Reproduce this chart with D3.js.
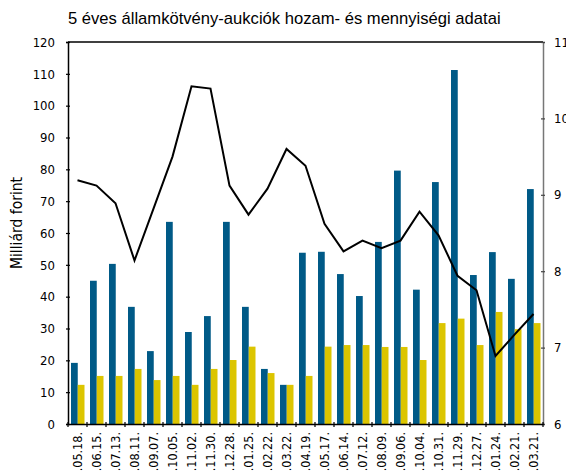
<!DOCTYPE html>
<html>
<head>
<meta charset="utf-8">
<script src="https://cdn.jsdelivr.net/npm/d3@7"></script>
<style>
	body { margin: 0; background: #fff; }
	svg { display: block; }
	.tick text { font-family: "Liberation Sans Narrow", "DejaVu Sans Condensed", sans-serif; }
</style>
</head>
<body>
<script>
// aukciós dátumok
var dates = ["2000.05.18.", "2000.06.15.", "2000.07.13.", "2000.08.11.", "2000.09.07.",
	"2000.10.05.", "2000.11.02.", "2000.11.30.", "2000.12.28.", "2001.01.25.",
	"2001.02.22.", "2001.03.22.", "2001.04.19.", "2001.05.17.", "2001.06.14.",
	"2001.07.12.", "2001.08.09.", "2001.09.06.", "2001.10.04.", "2001.10.31.",
	"2001.11.29.", "2001.12.27.", "2002.01.24.", "2002.02.21.", "2002.03.21."];

// benyújtott ajánlatok (Mrd Ft)
var offered = [19.2, 45.0, 50.3, 36.8, 22.9, 63.5, 28.9, 33.9, 63.5, 36.8,
	17.3, 12.3, 53.8, 54.1, 47.1, 40.2, 57.2, 79.6, 42.2, 76.0,
	111.2, 46.8, 54.0, 45.6, 73.8];

// elfogadott mennyiség (Mrd Ft)
var accepted = [12.3, 15.1, 15.1, 17.3, 13.8, 15.1, 12.3, 17.3, 20.1, 24.3,
	16.0, 12.3, 15.1, 24.3, 24.8, 24.8, 24.2, 24.2, 20.1, 31.7,
	33.1, 24.8, 35.2, 29.8, 31.7];

// átlaghozam (%)
var yields = [9.19, 9.12, 8.89, 8.14, 8.82, 9.50, 10.42, 10.39, 9.12, 8.74,
	9.08, 9.60, 9.38, 8.62, 8.26, 8.40, 8.30, 8.40, 8.78, 8.47,
	7.94, 7.75, 6.89, 7.17, 7.44];

var leftTicks = d3.range(0, 121, 10);
var rightTicks = [6, 7, 8, 9, 10, 11];

var width = 566, height = 472;
var mLeft = 68, mRight = 543, mTop = 42, mBottom = 424;

var svg = d3.select("body").append("svg")
	.attr("width", width)
	.attr("height", height);

var x = d3.scaleBand().domain(dates).range([mLeft, mRight]).paddingInner(0).paddingOuter(0);
var xIn = d3.scaleBand().domain(["offered", "accepted"]).range([3, x.bandwidth() - 2.5]).padding(0);
var yL = d3.scaleLinear().domain([0, 120]).range([mBottom, mTop]);
var yR = d3.scaleLinear().domain([6, 11]).range([mBottom, mTop]);

var blue = "#005a87", yellow = "#dcc500";

//bars
var g = svg.append("g").attr("class", "bars");
dates.forEach(function(d, i) {
	g.append("rect")
		.attr("x", x(d) + xIn("offered"))
		.attr("y", yL(offered[i]))
		.attr("width", xIn.bandwidth())
		.attr("height", mBottom - yL(offered[i]))
		.attr("fill", blue);
	g.append("rect")
		.attr("x", x(d) + xIn("accepted"))
		.attr("y", yL(accepted[i]))
		.attr("width", xIn.bandwidth())
		.attr("height", mBottom - yL(accepted[i]))
		.attr("fill", yellow);
});

//top border
svg.append("line")
	.attr("x1", mLeft).attr("x2", mRight)
	.attr("y1", mTop).attr("y2", mTop)
	.attr("stroke", "#000").attr("stroke-width", 1.3);

//yield line
var line = d3.line()
	.x(function(d, i) { return x(dates[i]) + x.bandwidth() / 2; })
	.y(function(d) { return yR(d); });

svg.append("path")
	.datum(yields)
	.attr("d", line)
	.attr("fill", "none")
	.attr("stroke", "#000")
	.attr("stroke-width", 2)
	.attr("stroke-linejoin", "miter");

//left axis
var axL = svg.append("g")
	.attr("transform", "translate(" + mLeft + ",0)")
	.call(d3.axisLeft(yL).tickValues(leftTicks).tickSize(2).tickPadding(11));
axL.select(".domain").attr("stroke", "#000").attr("stroke-width", 1.5);
axL.selectAll(".tick line").attr("x2", 2).attr("x1", -2).attr("stroke-width", 1.2);
axL.selectAll(".tick text").attr("font-size", 13).attr("fill", "#000");

//right axis
var axR = svg.append("g")
	.attr("transform", "translate(" + mRight + ",0)")
	.call(d3.axisRight(yR).tickValues(rightTicks).tickFormat(d3.format("d")).tickSize(2).tickPadding(9));
axR.select(".domain").attr("stroke", "#777").attr("stroke-width", 1.5);
axR.selectAll(".tick line").attr("x1", -2).attr("x2", 2).attr("stroke", "#444").attr("stroke-width", 1.2);
axR.selectAll(".tick text").attr("font-size", 13).attr("fill", "#000");

//bottom axis
var axB = svg.append("g")
	.attr("transform", "translate(0," + mBottom + ")")
	.call(d3.axisBottom(x).tickSize(0).tickPadding(0));
axB.select(".domain").attr("stroke", "#000").attr("stroke-width", 1.5);
axB.selectAll(".tick text")
	.attr("font-size", 12.5)
	.attr("fill", "#000")
	.attr("text-anchor", "end")
	.attr("transform", "translate(0,8) rotate(-90)")
	.attr("dy", "0.35em")
	.attr("y", 0);

//category boundary ticks
axB.selectAll(".sep")
	.data(dates.concat(["end"]))
	.enter().append("line")
	.attr("class", "sep")
	.attr("x1", function(d, i) { return mLeft + i * x.step(); })
	.attr("x2", function(d, i) { return mLeft + i * x.step(); })
	.attr("y1", -2).attr("y2", 3)
	.attr("stroke", "#000").attr("stroke-width", 1.2);

//title
svg.append("text")
	.attr("x", mLeft)
	.attr("y", 24)
	.attr("font-family", "Liberation Sans, Arial, sans-serif")
	.attr("font-size", 16.6)
	.attr("fill", "#000")
	.text("5 éves államkötvény-aukciók hozam- és mennyiségi adatai");

//y title
svg.append("text")
	.attr("transform", "translate(22,223) rotate(-90)")
	.attr("text-anchor", "middle")
	.attr("font-family", "Liberation Sans Narrow, DejaVu Sans Condensed, sans-serif")
	.attr("font-size", 15.5)
	.attr("fill", "#000")
	.text("Milliárd forint");
</script>
</body>
</html>
